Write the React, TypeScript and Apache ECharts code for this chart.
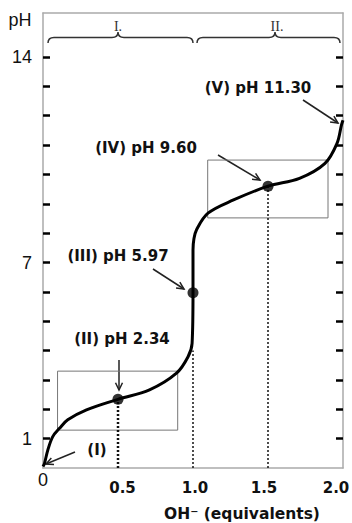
import React, { useEffect, useRef } from "react";
import * as echarts from "echarts";

// ---- data ----
const curveX = [0, 0.01, 0.032, 0.065, 0.11, 0.165, 0.29, 0.5, 0.71, 0.89, 0.967, 0.994, 1.0, 1.0, 1.006, 1.023, 1.1, 1.27, 1.5, 1.71, 1.88, 1.96, 1.99, 2.0];
const curvePH = [0.05, 0.16, 0.61, 1.07, 1.35, 1.64, 1.98, 2.34, 2.66, 3.23, 3.79, 4.25, 5.97, 7.43, 7.8, 8.11, 8.68, 9.13, 9.6, 9.87, 10.38, 11.06, 11.69, 11.85];
const pointX = [0.5, 1.0, 1.5];
const pointPH = [2.34, 5.97, 9.6];
const dropX = [0.5, 1.0, 1.5];
const dropTop = [2.34, 4.0, 9.6];
const dropWidth = [2.5, 1.5, 1.5];
const xLabelValues = [0, 0.5, 1.0, 1.5, 2.0];
const yTickValues = [1, 2, 3, 4, 5, 6, 7, 8, 9, 10, 11, 12, 13, 14];
const yLabelValues = [1, 7, 14];
const boxX1 = [0.097, 1.098];
const boxX2 = [0.898, 1.9];
const boxLow = [1.29, 8.52];
const boxHigh = [3.3, 10.49];
const annotationTexts = ["(V) pH 11.30", "(IV) pH 9.60", "(III) pH 5.97", "(II) pH 2.34", "(I)"];
const regionTexts = ["I.", "II."];
const axisName = "OH\u207B (equivalents)";
const yName = "pH";

// ---- layout (pixels) ----
const annPos = [
  [258, 88],
  [146, 148],
  [118, 256],
  [122, 339],
  [97, 450],
];
const arrowPos = [
  [303, 100, 338, 123],
  [218, 155, 260, 180],
  [153, 269, 184, 289],
  [119, 360, 119, 390],
  [75, 452, 46, 464],
];
const bracePos = [
  [48, 118, 193],
  [197, 275, 340],
];
const regionPos = [
  [118, 26],
  [277, 26],
];

function bracePath(x1: number, xm: number, x2: number) {
  const yEnd = 43, yLine = 37.5, yPeak = 32, r = 6;
  return `M${x1} ${yEnd} Q${x1} ${yLine} ${x1 + r} ${yLine} L${xm - r} ${yLine} Q${xm} ${yLine} ${xm} ${yPeak} Q${xm} ${yLine} ${xm + r} ${yLine} L${x2 - r} ${yLine} Q${x2} ${yLine} ${x2} ${yEnd}`;
}

function arrow(x1: number, y1: number, x2: number, y2: number) {
  const ang = Math.atan2(y2 - y1, x2 - x1);
  const len = 8;
  const spread = 0.45;
  const a1 = ang + Math.PI - spread;
  const a2 = ang + Math.PI + spread;
  return [
    { type: "line", shape: { x1, y1, x2, y2 }, style: { stroke: "#222", lineWidth: 1.5 } },
    {
      type: "polyline",
      shape: {
        points: [
          [x2 + len * Math.cos(a1), y2 + len * Math.sin(a1)],
          [x2, y2],
          [x2 + len * Math.cos(a2), y2 + len * Math.sin(a2)],
        ],
      },
      style: { stroke: "#222", lineWidth: 1.5, fill: "none" },
    },
  ];
}

export default function App() {
  const ref = useRef<HTMLDivElement>(null);

  useEffect(() => {
    if (!ref.current) return;
    bracePos.forEach((b, i) => {
      echarts.graphic.registerShape("brace" + i, echarts.graphic.extendPath(bracePath(b[0], b[1], b[2]), {}));
    });
    const chart = echarts.init(ref.current, null, { renderer: "svg" });

    const frameColor = "#aaa";
    const labelFont = "Liberation Sans, Arial, sans-serif";
    const boldFont = "DejaVu Sans, Verdana, sans-serif";

    const xRich: any = {
      z: { fontFamily: labelFont, fontSize: 18, color: "#111", padding: [0, 0, 0, 0] },
      b05: { fontFamily: boldFont, fontWeight: "bold", fontSize: 15, color: "#111", padding: [9, 0, 0, 9] },
      b10: { fontFamily: boldFont, fontWeight: "bold", fontSize: 15, color: "#111", padding: [9, 0, 0, 4] },
      b15: { fontFamily: boldFont, fontWeight: "bold", fontSize: 15, color: "#111", padding: [9, 8, 0, 0] },
      b20: { fontFamily: boldFont, fontWeight: "bold", fontSize: 15, color: "#111", padding: [9, 14, 0, 0] },
    };

    const graphics: any[] = [];
    bracePos.forEach((_, i) => {
      graphics.push({ type: "brace" + i, style: { fill: "none", stroke: "#333", lineWidth: 1.5 } });
    });
    regionTexts.forEach((t, i) => {
      graphics.push({
        type: "text",
        x: regionPos[i][0],
        y: regionPos[i][1],
        style: { text: t, fontFamily: "Liberation Serif, Times New Roman, serif", fontSize: 14, fill: "#333", align: "center", verticalAlign: "middle" },
      });
    });
    annotationTexts.forEach((t, i) => {
      graphics.push({
        type: "text",
        x: annPos[i][0],
        y: annPos[i][1],
        style: { text: t, fontFamily: boldFont, fontWeight: "bold", fontSize: 15, fill: "#111", align: "center", verticalAlign: "middle" },
      });
    });
    arrowPos.forEach((a) => graphics.push(...arrow(a[0], a[1], a[2], a[3])));
    graphics.push({
      type: "text",
      x: 20,
      y: 20,
      style: { text: yName, fontFamily: labelFont, fontSize: 18, fill: "#111", align: "center", verticalAlign: "middle" },
    });

    const series: any[] = [
      {
        type: "line",
        name: "boxes",
        data: [],
        silent: true,
        markArea: {
          silent: true,
          itemStyle: { color: "rgba(0,0,0,0)", borderColor: "#777", borderWidth: 1 },
          data: boxX1.map((x1, i) => [
            { coord: [x1, boxHigh[i]] },
            { coord: [boxX2[i], boxLow[i]] },
          ]),
        },
      },
      ...dropX.map((x, i) => ({
        type: "line",
        name: "drop" + i,
        data: [
          [x, 0],
          [x, dropTop[i]],
        ],
        symbol: "none",
        lineStyle: { color: "#111", width: dropWidth[i], type: [2, 2] },
        z: 1,
      })),
      {
        type: "line",
        name: "pH",
        data: curveX.map((x, i) => [x, curvePH[i]]),
        symbol: "none",
        smooth: 0.35,
        lineStyle: { color: "#000", width: 3 },
        z: 3,
      },
      {
        type: "scatter",
        name: "points",
        data: pointX.map((x, i) => [x, pointPH[i]]),
        symbolSize: 11,
        itemStyle: { color: "#000" },
        z: 4,
      },
    ];

    chart.setOption({
      animation: false,
      backgroundColor: "#fff",
      grid: { left: 43, right: 9, top: 13, bottom: 55, containLabel: false, outerBoundsMode: "none" },
      xAxis: [
        {
          type: "value",
          min: 0,
          max: 2,
          interval: 0.5,
          name: axisName,
          nameLocation: "middle",
          nameGap: 38,
          nameMoveOverlap: false,
          nameTextStyle: { fontFamily: boldFont, fontWeight: "bold", fontSize: 15.5, lineHeight: 16, color: "#111", padding: [0, 0, 0, 98] },
          axisLine: { show: true, onZero: false, lineStyle: { color: frameColor, width: 1.5 } },
          axisTick: { show: false },
          splitLine: { show: false },
          axisLabel: {
            customValues: xLabelValues,
            margin: 3,
            formatter: (v: number) => {
              if (v === 0) return "{z|0}";
              const key = "b" + v.toFixed(1).replace(".", "");
              return `{${key}|${v.toFixed(1)}}`;
            },
            rich: xRich,
          },
        },
        {
          type: "value",
          position: "top",
          min: 0,
          max: 2,
          axisLine: { show: true, onZero: false, lineStyle: { color: frameColor, width: 1.5 } },
          axisTick: { show: false },
          axisLabel: { show: false },
          splitLine: { show: false },
        },
      ],
      yAxis: [
        {
          type: "value",
          min: 0,
          max: 15.5,
          interval: 1,
          axisLine: { show: true, onZero: false, lineStyle: { color: frameColor, width: 1.5 } },
          axisTick: { show: true, inside: true, length: 7, customValues: yTickValues, lineStyle: { color: "#000", width: 2.5 } },
          axisLabel: {
            customValues: yLabelValues,
            margin: 11,
            fontFamily: labelFont,
            fontSize: 18,
            color: "#111",
          },
          splitLine: { show: false },
        },
        {
          type: "value",
          position: "right",
          min: 0,
          max: 15.5,
          interval: 1,
          axisLine: { show: true, onZero: false, lineStyle: { color: frameColor, width: 1.5 } },
          axisTick: { show: true, inside: true, length: 7, customValues: yTickValues, lineStyle: { color: "#000", width: 2.5 } },
          axisLabel: { show: false },
          splitLine: { show: false },
        },
      ],
      series,
      graphic: graphics,
    });

    return () => chart.dispose();
  }, []);

  return (
    <div
      ref={ref}
      style={{ position: "fixed", left: 0, top: 0, width: 352, height: 523, background: "#fff" }}
    />
  );
}
